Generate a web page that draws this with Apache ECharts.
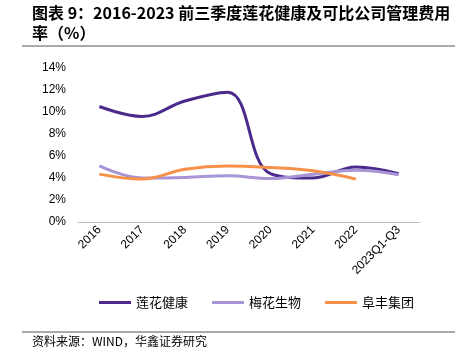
<!DOCTYPE html>
<html><head><meta charset="utf-8">
<script src="https://cdn.jsdelivr.net/npm/echarts@6/dist/echarts.min.js"></script>
<style>html,body{margin:0;padding:0;background:#fff;}#c{width:465px;height:356px;}</style>
</head><body><div id="c"></div>
<script>
const categories = ['2016','2017','2018','2019','2020','2021','2022','2023Q1-Q3'];
const lianhua = [10.5, 9.6, 11.0, 11.8, 4.4, 4.0, 5.0, 4.4];
const meihua = [5.1, 4.0, 4.05, 4.2, 3.95, 4.35, 4.7, 4.3];
const fufeng = [4.35, 3.9, 4.8, 5.1, 4.95, 4.65, 3.9, null];
const yTicks = [0, 2, 4, 6, 8, 10, 12, 14];
const names = ['莲花健康','梅花生物','阜丰集团'];
const colors = ['#4B2A8C','#A795D5','#F7914A'];
const FONT = '"Noto Sans CJK SC", "Liberation Sans", sans-serif';
const NUMFONT = '"Liberation Sans", Arial, sans-serif';

const chart = echarts.init(document.getElementById('c'));
function ser(name, data, color) {
  return { name, type: 'line', data, smooth: 0.4, symbol: 'none', connectNulls: false,
    lineStyle: { color, width: 3 }, itemStyle: { color } };
}
chart.setOption({
  animation: false,
  textStyle: { fontFamily: FONT },
  grid: { left: 78, right: 45, top: 68, bottom: 134 },
  legend: {
    bottom: 42, left: 94, itemWidth: 32, itemHeight: 3, itemGap: 24,
    icon: 'rect',
    textStyle: { fontSize: 13, color: '#000', fontFamily: FONT },
    data: names
  },
  xAxis: {
    type: 'category', data: categories, boundaryGap: true,
    axisLine: { lineStyle: { color: '#BFBFBF' } },
    axisTick: { inside: true, length: 4, lineStyle: { color: '#BFBFBF' } },
    axisLabel: { rotate: 45, fontSize: 12, color: '#000', margin: 6, fontFamily: NUMFONT }
  },
  yAxis: {
    type: 'value', min: 0, max: 14, interval: 2,
    splitLine: { show: false },
    axisLine: { show: false }, axisTick: { show: false },
    axisLabel: { fontSize: 12, color: '#000', margin: 12, fontFamily: NUMFONT,
      formatter: v => yTicks.includes(v) ? v + '%' : '' }
  },
  series: [ser(names[0], lianhua, colors[0]), ser(names[1], meihua, colors[1]), ser(names[2], fufeng, colors[2])],
  graphic: [
    { type: 'text', left: 32, top: 5, style: { text: '图表 9：2016-2023 前三季度莲花健康及可比公司管理费用', font: 'bold 16px ' + FONT, fill: '#000' } },
    { type: 'text', left: 32, top: 25, style: { text: '率（%）', font: 'bold 16px ' + FONT, fill: '#000' } },
    { type: 'line', shape: { x1: 22, y1: 46, x2: 455, y2: 46 }, style: { stroke: '#555', lineWidth: 1 } },
    { type: 'line', shape: { x1: 22, y1: 332, x2: 455, y2: 332 }, style: { stroke: '#555', lineWidth: 1 } },
    { type: 'text', left: 32, top: 335, style: { text: '资料来源：WIND，华鑫证券研究', font: '12px ' + FONT, fill: '#000' } }
  ]
});
</script></body></html>
